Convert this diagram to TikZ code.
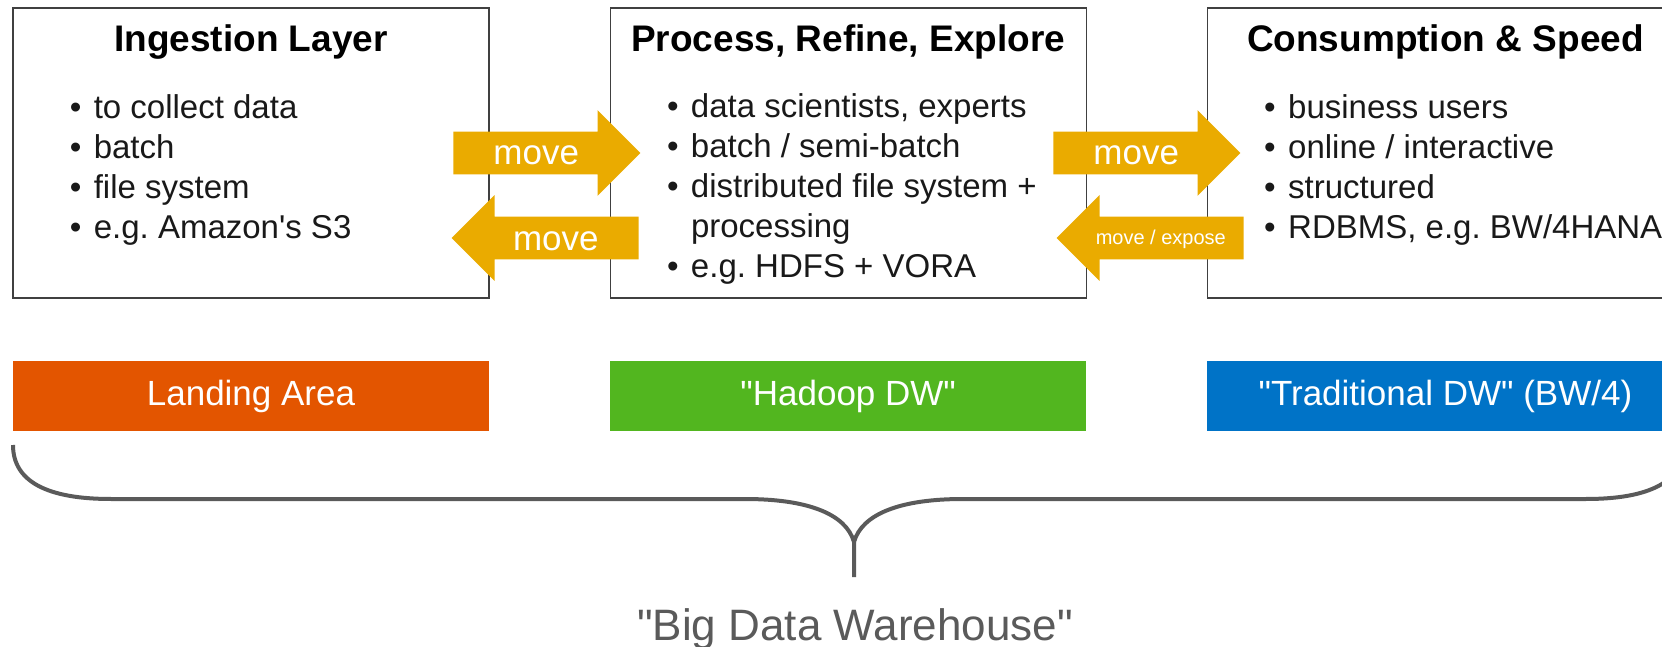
\documentclass[tikz,border=0pt]{standalone}
\usepackage{fontspec}
\setmainfont{Liberation Sans}
\usetikzlibrary{positioning, shapes.arrows}
\frenchspacing

\definecolor{movegold}{HTML}{EAAB00}
\definecolor{landorange}{HTML}{E35500}
\definecolor{hadoopgreen}{HTML}{52B61F}
\definecolor{tradblue}{HTML}{0073C7}
\definecolor{bracegray}{HTML}{5A5A5A}

\newcommand{\bitem}{\makebox[12pt][l]{\textbullet}}
\newcommand{\dq}{\textquotedbl}

\begin{document}
\begin{tikzpicture}[
    x=0.5pt, y=-0.5pt,
    node distance=31pt and 60pt,
    layer/.style={draw=black!75, line width=0.6pt, minimum width=238pt, minimum height=145pt, inner sep=0pt},
    head/.style={font=\fontsize{18.5}{22}\selectfont\bfseries, anchor=base, inner sep=0pt},
    items/.style={font=\fontsize{16.5}{20}\selectfont, text=black!90, align=left, anchor=base west, inner sep=0pt},
    zone/.style={minimum width=238pt, minimum height=35pt, inner sep=0pt, text=white, font=\fontsize{17.5}{20}\selectfont},
    mv/.style={single arrow, fill=movegold, text=white, single arrow head extend=10.75pt, single arrow tip angle=90,
        minimum height=93.5pt, inner xsep=2pt, inner ysep=0pt, text height=16.5pt, text depth=4.5pt, font=\fontsize{17.5}{20}\selectfont},
    brace/.style={draw=bracegray, line width=2pt}
]
\useasboundingbox (0,0) rectangle (1662,647);

% layers
\node[layer] (ing) at (251,153) {};
\node[layer, right=of ing] (proc) {};
\node[layer, right=of proc] (cons) {};

\node[head] (ingT) at ([yshift=-22pt]ing.north) {Ingestion Layer};
\node[head] (procT) at ([yshift=-22pt]proc.north) {Process, Refine, Explore};
\node[head] (consT) at ([yshift=-22pt]cons.north) {Consumption \& Speed};

% base of a list = baseline of its last line
\node[items] (ingL) at ([xshift=28.5pt, yshift=-115.5pt]ing.north west) {\bitem to collect data\\ \bitem batch\\ \bitem file system\\ \bitem e.g. Amazon\textquotesingle s S3};
\node[items] (procL) at ([xshift=28.5pt, yshift=-135pt]proc.north west) {\bitem data scientists, experts\\ \bitem batch / semi-batch\\ \bitem distributed file system +\\ \hspace*{12pt}processing\\ \bitem e.g. HDFS + VORA};
\node[items] (consL) at ([xshift=28.5pt, yshift=-115.5pt]cons.north west) {\bitem business users\\ \bitem online / interactive\\ \bitem structured\\ \bitem RDBMS, e.g. BW/4HANA};

% zones
\node[zone, fill=landorange, below=of ing] (land) {Landing Area};
\node[zone, fill=hadoopgreen, below=of proc] (hdw) {\dq Hadoop DW\dq};
\node[zone, fill=tradblue, below=of cons] (tdw) {\dq Traditional DW\dq\ (BW/4)};

% moves
\node[mv, anchor=tail] (mv1) at (453,153) {move};
\node[mv, shape border rotate=180, anchor=tail] (mv2) at (639,238) {move};
\node[mv, anchor=tail] (mv3) at (1053,153) {move};
\node[mv, shape border rotate=180, anchor=tail, font=\fontsize{10}{12}\selectfont, text height=14pt, text depth=7pt] (mv4) at (1244,238) {move / expose};

% brace
\draw[brace] (13,445) .. controls (13,482) and (48,499) .. (111,499) -- (745,499) .. controls (808,499) and (846,514) .. (854,542) -- (854,577);
\draw[brace] (854,542) .. controls (862,514) and (900,499) .. (963,499) -- (1586,499) .. controls (1649,499) and (1684,482) .. (1684,445);
\node[font=\fontsize{22}{26}\selectfont, text=bracegray, anchor=base, inner sep=0pt] (bdw) at (855,640) {\dq Big Data Warehouse\dq};
\end{tikzpicture}
\end{document}
